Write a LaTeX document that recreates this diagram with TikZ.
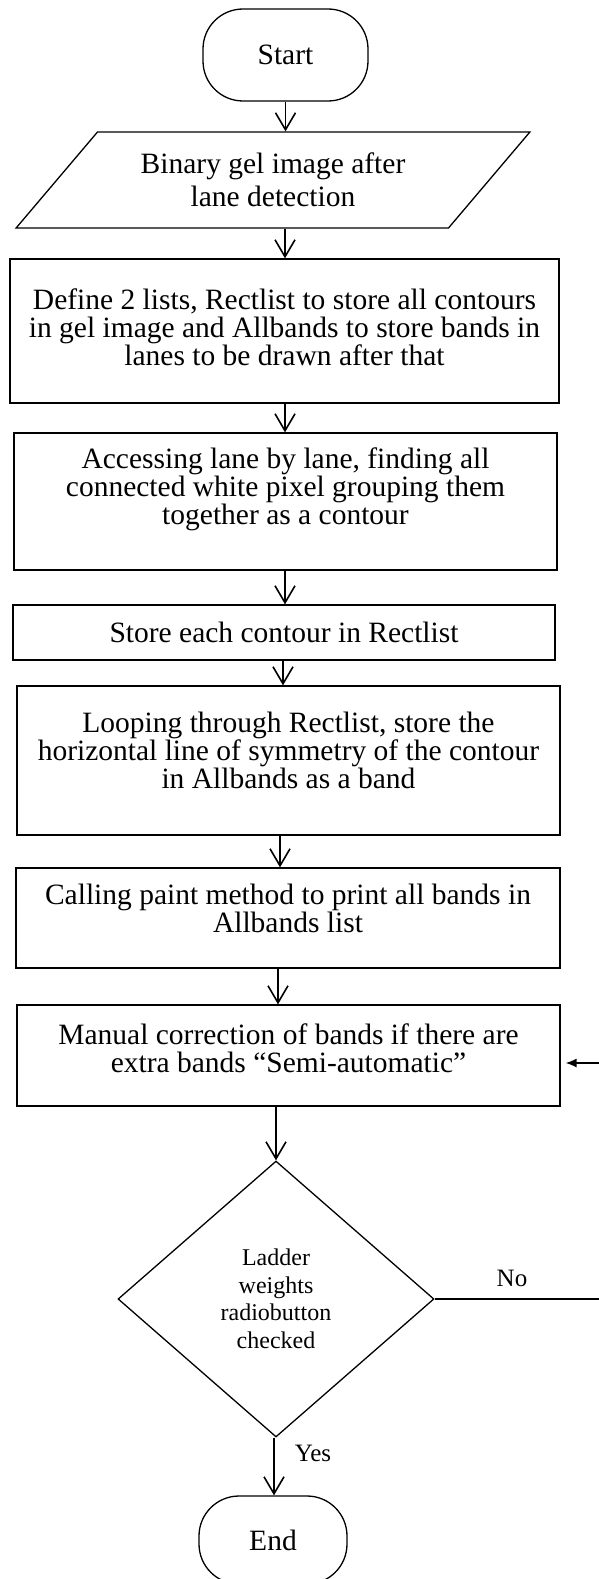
\documentclass[tikz,border=0pt]{standalone}
\usepackage{fontspec}
\setmainfont{Liberation Serif}
\usetikzlibrary{shapes.geometric,arrows.meta}

% extra depth under the last line, so the text sits a little above the box centre
\newcommand{\textlift}[1]{\rule[-#1]{0pt}{0pt}}

\tikzset{
  boxtext/.style={font=\fontsize{29.5}{28}\selectfont, align=center},
  procbox/.style={draw, line width=1.3pt, rectangle, inner sep=2pt, boxtext},
  terminal/.style={draw, line width=1.3pt, rectangle, rounded corners=40pt, inner sep=2pt, boxtext},
  iobox/.style={draw, line width=1.3pt, trapezium, trapezium left angle=43, trapezium right angle=137,
    trapezium stretches=true, inner sep=2pt, font=\fontsize{29.5}{33}\selectfont, align=center},
  decision/.style={draw, line width=1.3pt, diamond, inner sep=0pt,
    font=\fontsize{24}{27.5}\selectfont, align=center},
  flow/.style={line width=1.6pt, -{Straight Barb[length=17pt,width=20pt,line width=1.6pt]}},
  backflow/.style={line width=1.4pt, -{Latex[length=11pt,width=9pt]}},
  branchlabel/.style={font=\fontsize{25}{28}\selectfont, inner sep=0pt}
}

\begin{document}
\begin{tikzpicture}[x=1pt,y=-1pt]
\useasboundingbox (0,0) rectangle (598,1579);

% process steps
\node[terminal, minimum width=165pt, minimum height=92pt] (start) at (285.5,55) {Start};
\node[iobox, minimum width=516pt, minimum height=96pt] (input) at (273,180)
  {Binary gel image after\\lane detection};
\node[procbox, minimum width=549pt, minimum height=144pt] (lists) at (284.5,331)
  {Define 2 lists, Rectlist to store all contours\\in gel image and Allbands to store bands in\\lanes to be drawn after that\textlift{8pt}};
\node[procbox, minimum width=543pt, minimum height=137pt] (access) at (285.5,501.5)
  {Accessing lane by lane, finding all\\connected white pixel grouping them\\together as a contour\textlift{30pt}};
\node[procbox, minimum width=542pt, minimum height=55pt] (store) at (284,632.5)
  {Store each contour in Rectlist};
\node[procbox, minimum width=543pt, minimum height=149pt] (loop) at (288.5,760.5)
  {Looping through Rectlist, store the\\horizontal line of symmetry of the contour\\in Allbands as a band\textlift{20pt}};
\node[procbox, minimum width=544pt, minimum height=100pt] (paint) at (288,918)
  {Calling paint method to print all bands in\\Allbands list\textlift{20pt}};
\node[procbox, minimum width=543pt, minimum height=101pt] (manual) at (288.5,1055.5)
  {Manual correction of bands if there are\\extra bands “Semi-automatic”\textlift{14pt}};
\node[decision, minimum width=316pt, minimum height=276pt] (ladder) at (276,1299)
  {Ladder\\weights\\radiobutton\\checked};
\node[terminal, minimum width=148pt, minimum height=88pt] (finish) at (273,1540) {End};

% connectors
\draw[flow] (start.south) -- (start.south |- input.north);
\draw[flow] (input.south -| 285,0) -- (285,0 |- lists.north);
\draw[flow] (lists.south -| 285,0) -- (285,0 |- access.north);
\draw[flow] (access.south -| 285,0) -- (285,0 |- store.north);
\draw[flow] (store.south -| 283,0) -- (283,0 |- loop.north);
\draw[flow] (loop.south -| 280,0) -- (280,0 |- paint.north);
\draw[flow] (paint.south -| 278,0) -- (278,0 |- manual.north);
\draw[flow] (manual.south -| ladder.north) -- (ladder.north);
\draw[flow] (ladder.south -| 274,0) -- (274,0 |- finish.north);

% loop back when the ladder option is not checked
\coordinate (turnlow) at (600,1299);
\coordinate (turnhigh) at (600,1063);
\draw[line width=1.4pt] (ladder.east) -- (turnlow) -- (turnhigh);
\draw[backflow, shorten >=5pt] (turnhigh) -- (turnhigh -| manual.east);

% branch labels
\node[branchlabel] (nolabel) at (512,1278) {No};
\node[branchlabel] (yeslabel) at (313,1453) {Yes};
\end{tikzpicture}
\end{document}
